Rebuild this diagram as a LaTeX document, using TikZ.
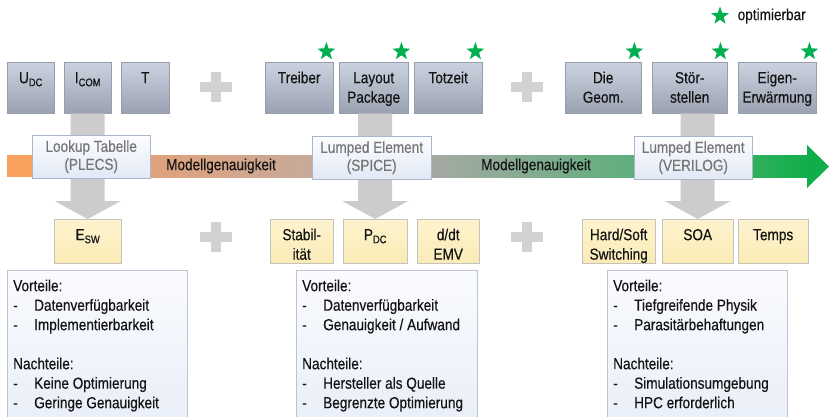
\documentclass[tikz,border=0pt]{standalone}
\usepackage{fontspec}
\setmainfont{Liberation Sans}[FakeStretch=0.85, FakeBold=0.4]
\usetikzlibrary{shapes.geometric,shadows,calc,positioning}

\definecolor{txt}{RGB}{20,20,20}
\definecolor{paramtop}{RGB}{203,210,224}
\definecolor{parambot}{RGB}{154,162,177}
\definecolor{paramline}{RGB}{150,158,172}
\definecolor{restop}{RGB}{253,243,206}
\definecolor{resbot}{RGB}{250,235,182}
\definecolor{resline}{RGB}{196,196,188}
\definecolor{modeltop}{RGB}{252,253,255}
\definecolor{modelbot}{RGB}{226,233,245}
\definecolor{modelline}{RGB}{170,182,202}
\definecolor{modeltxt}{RGB}{118,118,118}
\definecolor{notetop}{RGB}{250,251,254}
\definecolor{notebot}{RGB}{232,238,248}
\definecolor{noteline}{RGB}{188,196,208}
\definecolor{shaftgrey}{RGB}{204,204,204}
\definecolor{plusgrey}{RGB}{210,210,210}
\definecolor{optgreen}{RGB}{0,176,80}
\definecolor{barorange}{RGB}{248,160,94}
\definecolor{bartan}{RGB}{224,161,123}
\definecolor{barbrown}{RGB}{199,170,155}
\definecolor{bargrey}{RGB}{167,169,163}
\definecolor{bargreen}{RGB}{93,175,124}
\definecolor{bargreenb}{RGB}{50,176,94}
\definecolor{bargreenc}{RGB}{16,174,74}

% fixed-size cell, text set from the top
\newcommand{\cellbox}[3]{\parbox[t][#2pt][t]{#1pt}{\centering\rule{0pt}{21pt}#3}}
\newcommand{\notebox}[2]{\parbox[t][160pt][t]{#1pt}{\raggedright\leftskip=6pt\rule{0pt}{21pt}#2}}
\newcommand{\dashitem}{\makebox[21pt][l]{-}}
\newcommand{\lowidx}[1]{\raisebox{-3pt}{\fontsize{11}{11}\selectfont #1}}

\begin{document}
\begin{tikzpicture}
[
    x=1pt, y=-1pt,
    font=\fontsize{16}{19.5}\selectfont,
    text=txt,
    boxshadow/.style={drop shadow={opacity=0.3, shadow xshift=0.8pt, shadow yshift=-1.2pt}},
    param/.style={draw=paramline, top color=paramtop, bottom color=parambot, inner sep=0pt, anchor=north west, boxshadow},
    result/.style={draw=resline, top color=restop, bottom color=resbot, inner sep=0pt, anchor=north west, boxshadow},
    model/.style={draw=modelline, top color=modeltop, bottom color=modelbot, text=modeltxt, align=center,
        minimum height=43pt, inner sep=0pt, anchor=north west, font=\fontsize{16}{18}\selectfont, boxshadow},
    note/.style={draw=noteline, top color=notetop, bottom color=notebot, inner sep=0pt, anchor=north west},
    opt/.style={star, star points=5, star point ratio=2.5, fill=optgreen, minimum size=19pt, inner sep=0pt},
    bartext/.style={inner sep=0pt}
]
    \useasboundingbox (0,0) rectangle (829,416);

    % inputs
    \node[param] (udc) at (7,62) {\cellbox{47}{51}{U\lowidx{DC}}};
    \node[param] (icom) at (64,62) {\cellbox{47}{51}{I\lowidx{COM}}};
    \node[param] (temp) at (121,62) {\cellbox{48}{51}{T}};
    \node[param] (treiber) at (265,62) {\cellbox{68}{51}{Treiber}};
    \node[param] (layout) at (339,62) {\cellbox{69}{51}{Layout\\Package}};
    \node[param] (totzeit) at (414,62) {\cellbox{68}{51}{Totzeit}};
    \node[param] (diegeom) at (565,62) {\cellbox{76}{51}{Die\\Geom.}};
    \node[param] (stoer) at (652,62) {\cellbox{75}{51}{Stör-\\stellen}};
    \node[param] (eigen) at (738,62) {\cellbox{78}{51}{Eigen-\\Erwärmung}};

    % outputs
    \node[result] (esw) at (54,219) {\cellbox{67}{44}{E\lowidx{SW}}};
    \node[result] (stab) at (270,219) {\cellbox{63}{44}{Stabil-\\ität}};
    \node[result] (pdc) at (343,219) {\cellbox{64}{44}{P\lowidx{DC}}};
    \node[result] (dvdt) at (417,219) {\cellbox{62}{44}{d/dt\\EMV}};
    \node[result] (hard) at (582,219) {\cellbox{73}{44}{Hard/Soft\\Switching}};
    \node[result] (soa) at (662,219) {\cellbox{71}{44}{SOA}};
    \node[result] (temps) at (738,219) {\cellbox{70}{44}{Temps}};

    % broad arrows through the models
    \begin{scope}[on background layer/.try]
    \foreach \src/\dst in {icom/esw, layout/pdc, stoer/soa}
        \fill[shaftgrey] ($(\src.south -| \dst.north)+(-17,0)$) -- ($(\dst.north)+(-17,-18)$)
            -- ($(\dst.north)+(-33,-18)$) -- (\dst.north) -- ($(\dst.north)+(33,-18)$)
            -- ($(\dst.north)+(17,-18)$) -- ($(\src.south -| \dst.north)+(17,0)$) -- cycle;
    \end{scope}

    % accuracy scale
    \fill[barorange] (7,155) rectangle (40,177);
    \shade[left color=bartan, right color=barbrown] (148,155) rectangle (316,177);
    \shade[left color=bargrey, right color=bargreen] (428,155) rectangle (638,177);
    \shade[left color=bargreenb, right color=bargreenc] (748,155) rectangle (808,177);
    \fill[bargreenc] (807,145) -- (829,166.5) -- (807,188) -- cycle;
    \node[bartext] (acc1) at (221,166) {Modellgenauigkeit};
    \node[bartext] (acc2) at (536,166) {Modellgenauigkeit};

    \node[model, minimum width=118pt] (lookup) at (32,135) {Lookup Tabelle\\(PLECS)};
    \node[model, minimum width=119pt] (spice) at (312,136) {Lumped Element\\(SPICE)};
    \node[model, minimum width=118pt] (verilog) at (634,136) {Lumped Element\\(VERILOG)};

    \foreach \px/\py in {216/87, 527/87, 216/237, 527/237} {
        \fill[plusgrey] (\px-16,\py-5) rectangle (\px+16,\py+5);
        \fill[plusgrey] (\px-5,\py-15) rectangle (\px+5,\py+15);
    }

    % pros and cons
    \node[note] (pros1) at (7,270) {\notebox{180}{Vorteile:\\
        \dashitem Datenverfügbarkeit\\
        \dashitem Implementierbarkeit\\[19.5pt]
        Nachteile:\\
        \dashitem Keine Optimierung\\
        \dashitem Geringe Genauigkeit}};
    \node[note] (pros2) at (296,270) {\notebox{181}{Vorteile:\\
        \dashitem Datenverfügbarkeit\\
        \dashitem Genauigkeit / Aufwand\\[19.5pt]
        Nachteile:\\
        \dashitem Hersteller als Quelle\\
        \dashitem Begrenzte Optimierung}};
    \node[note] (pros3) at (607,270) {\notebox{180}{Vorteile:\\
        \dashitem Tiefgreifende Physik\\
        \dashitem Parasitärbehaftungen\\[19.5pt]
        Nachteile:\\
        \dashitem Simulationsumgebung\\
        \dashitem HPC erforderlich}};

    % optimisable parameters
    \foreach \b in {treiber, layout, totzeit, diegeom, stoer, eigen}
        \node[opt] (star-\b) at ([xshift=-7pt, yshift=10.5pt]\b.north east) {};
    \node[opt] (legstar) at (720,16) {};
    \node[right=12pt of legstar, inner sep=0pt] (legtext) {optimierbar};
\end{tikzpicture}
\end{document}
